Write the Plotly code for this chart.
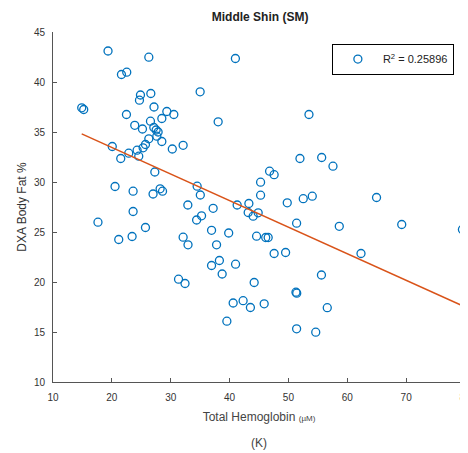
import plotly.graph_objects as go

title_text = "Middle Shin (SM)"
x_title = "Total Hemoglobin <span style='font-size:8px'>(µM)</span>"
y_title = "DXA Body Fat %"
panel_label = "(K)"
legend_label = "R<sup>2</sup> = 0.25896"

x_ticks = [10, 20, 30, 40, 50, 60, 70, 80]
y_ticks = [10, 15, 20, 25, 30, 35, 40, 45]

thb = [19.35, 26.28, 21.63, 22.53, 40.99, 35.0, 24.86, 26.62, 24.69, 14.88,
       15.22, 27.16, 22.48, 29.34, 30.53, 38.06, 53.49, 23.89, 25.2, 26.56,
       28.49, 27.13, 27.52, 27.86, 27.64, 28.49, 26.28, 30.27, 32.11, 20.07,
       21.51, 22.87, 24.29, 24.57, 25.31, 25.71, 27.3, 20.54, 23.61, 27.0,
       28.2, 28.61, 34.49, 35.03, 32.91, 23.61, 17.64, 25.71, 21.17, 23.44,
       32.11, 32.94, 34.4, 35.24, 37.21, 41.29, 43.28, 43.16, 44.01, 44.86,
       36.94, 39.85, 37.79, 44.59, 46.14, 46.56, 38.27, 36.94, 38.74, 41.02,
       47.57, 49.52, 51.96, 55.65, 57.57, 46.8, 47.57, 45.27, 45.27, 49.8,
       52.52, 54.05, 64.97, 51.39, 58.64, 69.25, 79.56, 62.33, 55.61, 44.18,
       51.28, 51.41, 40.61, 42.3, 43.54, 45.88, 56.6, 51.39, 54.64, 39.54,
       31.33, 32.43]
fat = [43.1, 42.48, 40.75, 40.98, 42.35, 39.02, 38.7, 38.85, 38.18, 37.42,
       37.25, 37.5, 36.75, 37.05, 36.75, 36.02, 36.75, 35.67, 35.3, 36.08,
       36.35, 35.45, 35.2, 35.0, 34.58, 34.05, 34.32, 33.3, 33.67, 33.55,
       32.35, 32.88, 33.18, 32.58, 33.42, 33.75, 31.0, 29.55, 29.08, 28.8,
       29.32, 29.08, 29.58, 28.7, 27.7, 27.05, 25.98, 25.45, 24.25, 24.55,
       24.48, 23.72, 26.2, 26.62, 27.37, 27.7, 27.85, 26.95, 26.58, 26.92,
       25.17, 24.9, 23.72, 24.58, 24.45, 24.45, 22.15, 21.65, 20.8, 21.78,
       22.85, 22.95, 32.35, 32.45, 31.58, 31.08, 30.73, 29.98, 28.68, 27.92,
       28.33, 28.58, 28.45, 25.88, 25.57, 25.75, 25.25, 22.85, 20.7, 19.95,
       18.98, 18.88, 17.9, 18.13, 17.45, 17.82, 17.43, 15.32, 14.98, 16.08,
       20.28, 19.85]

fit_intercept = 38.76
fit_slope = -0.2656

x_line = [min(thb), max(thb)]
y_line = [fit_intercept + fit_slope * v for v in x_line]

fig = go.Figure()
fig.add_trace(go.Scatter(
    x=thb, y=fat, mode="markers", name=legend_label, cliponaxis=False,
    marker=dict(symbol="circle-open", size=8, color="#0072BD",
                line=dict(width=1.3, color="#0072BD")),
))
fig.add_trace(go.Scatter(
    x=x_line, y=y_line, mode="lines", showlegend=False, cliponaxis=False,
    line=dict(color="#D95319", width=1.5),
))

axis_common = dict(
    showgrid=False, zeroline=False, showline=True, linecolor="#555555",
    linewidth=1, ticks="inside", ticklen=4, tickcolor="#555555",
    tickfont=dict(family="Liberation Sans", size=10, color="#333333"),
    mirror=False, automargin=False, ticklabeloverflow="allow",
)

fig.update_layout(
    width=460, height=445,
    margin=dict(l=45, r=3, t=24, b=71, autoexpand=False),
    paper_bgcolor="white", plot_bgcolor="white",
    title=dict(text="<b>" + title_text + "</b>", x=0.548, xanchor="center",
               y=0.98, yanchor="middle", automargin=False,
               font=dict(family="Liberation Sans", size=12, color="#222222")),
    xaxis=dict(range=[10, 80], tickvals=x_ticks, ticklabelstandoff=6,
               title=dict(text=x_title, standoff=10,
                          font=dict(family="Liberation Sans", size=12, color="#444444")),
               **axis_common),
    yaxis=dict(range=[10, 45], tickvals=y_ticks, ticklabelstandoff=5,
               title=dict(text=y_title, standoff=4,
                          font=dict(family="Liberation Sans", size=12, color="#333333")),
               **axis_common),
    legend=dict(x=0.973, xanchor="right", y=0.967, yanchor="top",
                bordercolor="black", borderwidth=1, bgcolor="white",
                font=dict(family="Liberation Sans", size=11, color="#222222"),
                itemwidth=40, entrywidth=80),
    showlegend=True,
)

fig.add_annotation(text=panel_label, xref="paper", yref="paper",
                   x=0.5, y=-0.148, xanchor="center", yanchor="top",
                   showarrow=False,
                   font=dict(family="Liberation Sans", size=12, color="#444444"))

fig.write_html("out.html")
